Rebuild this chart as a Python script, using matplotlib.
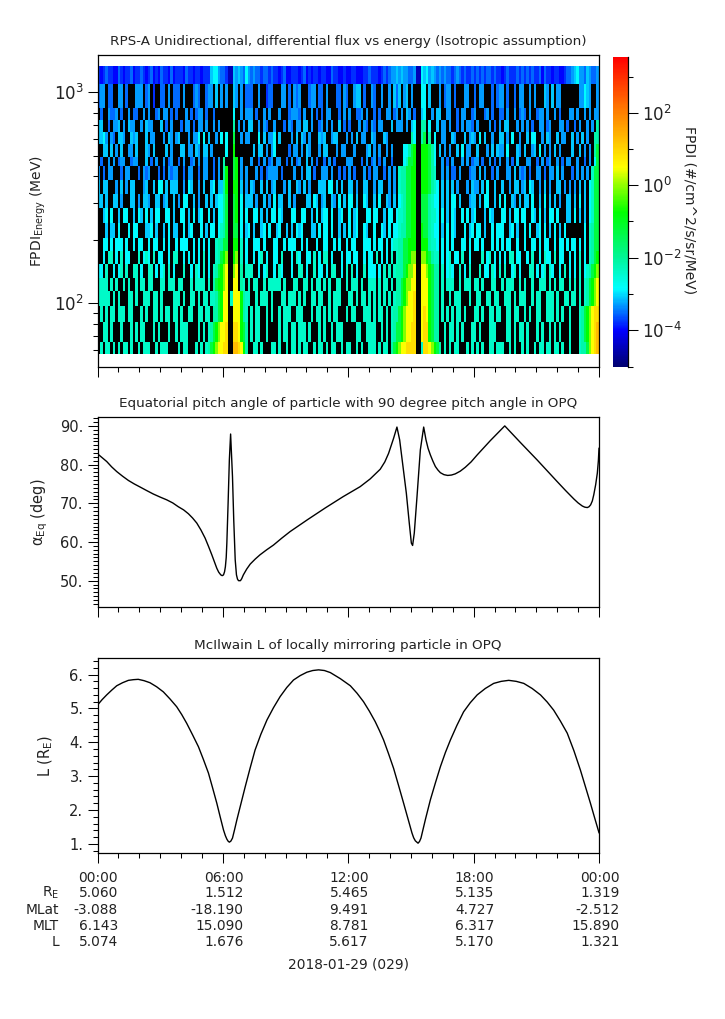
import numpy as np
import matplotlib
matplotlib.use('Agg')
import matplotlib.pyplot as plt
from matplotlib.colors import LinearSegmentedColormap, LogNorm
from matplotlib.ticker import FixedLocator, NullFormatter, FuncFormatter

# energy bin edges (MeV), top of the panel first
energy_edges = [1329, 1091, 839, 736, 645, 566, 496, 445, 382, 331, 284,
                241, 205, 178, 154, 132, 115, 97.3, 81.7, 65.6, 57.5]

# log10 flux per letter, '.' is a fill cell (drawn black)
flux_levels = {'z': -4.5, '0': -4.0, '1': -3.8, '2': -3.55, '3': -3.3, '4': -3.1, '5': -2.86,
               '6': -2.4, '7': -2.15, '8': -1.3, '9': -0.75, 'a': -0.1, 'b': 0.5, 'c': 0.9, 'd': 1.3}

flux_rows = [
    "1012110021 0112011210 1201021102 0111021101 1011145532 21zz434325 3232212212 1101200111 0120101101 1002110010 0110001121 1101212334 3433223zz5 4534323232 2123212112 1212122121 1012111212 1212112021 1011001223 4533243223",
    "233.22..33 .2...333.2 3.1..22.3. 222.3...23 2..233.4.3 .3..43.3.2 22..3..122 ...33.2.32 3...233.22 .3...22.32 ..344.2..3 2..3..3.42 4.34.3...5 5.4...3.23 3.2...33.. 2.33...2.2 33.2..2.33 ..3.3...43 .4.33..... ..33543..3",
    ".2..3223.2 ..3.22..3. 3..23.33.2 .2...3.2.2 33.2..2... ....5..3.3 33.2..3.3. ..3...2333 2.3..3.2.2 .33...2.3. 3..223.3.. 2.2..33.23 .3.43.2..4 5..3.44..3 3..2.33..2 3...23.2.. 22.3..3.23 2.3..233.3 ..3.2...33 .3..3.3.33",
    "44..2.334. 3.433..3.4 33...4.2.3 ...2.33.2. 33.3..3.3. ....7.3.3. 44..3.32.. 3...2.32.3 3.44.3..23 .3.3..4.2. 2...3.32.3 2.33...4.3 33.3.45..7 7.5..4.33. 3..2.3.332 .3....3.2. 3.44...3.3 .3.2..33.2 3...33.2.. 2.3..3.3.7",
    "4453.32.44 3..434...4 .33...3.43 .34...3.33 5.5.4..3.5 .5..8..3.3 3...5.4.33 5.4....3.4 .43.3...43 4..344...3 .3.4.33..4 3...43.... .....75..7 8.7.5..33. .43...4.34 3.5.4..3.. 44.3.5..3. .4.55..3.4 3..4.33..4 .3.4.3..77",
    "..44.4.3.4 ..33.4...4 3.4....4.3 ...44.33.4 3.44.3.... .5..9..... ..4.44.3.3 5.....2.33 .3.43...3. 44...3.33. ..3....34. 3.3..3.3.. ..55789..9 99875.4.3. 3..4.5.33. .4...3.4.4 33.5...43. 4..34.5.3. 3.4.3....4 ..4.3.3.78",
    ".2..3.3.23 3..233...4 .2.3..3.23 ..2.3..23. 3.33..2.3. 7...89.3.. .3..2.3.23 .33..2.3.2 3..4.3.2.. 2.3.2....3 33...2.3.2 3.2.3..2.. ..56889..9 99875..3.2 .3...3.3.2 33.2..3.2. 3..3.2.4.. .33..2.3.2 3..3.2.33. .3..2.3.58",
    "3.2.33...2 .33...2.32 3...2.2.32 33..2.33.. 2.33..2.3. 79..89.3.3 ...3.2.233 33.2....3. .3.44.2..3 33.3..2.2. 3.2...3.2. 33..2.3.3. 6778899..9 99876..3.3 .22.3...23 3.4.3..2.3 ...33.4.32 3.2..33.2. 33.4.3...2 .3.3.3.688",
    "4.44...3.4 .3.44...34 ..4.55.4.4 44..3.54.. 3.4..45.44 79..99.4.3 .43..4.4.3 4...3.4..4 3.4.3...44 4.55.4.4.. 44.3..44.. 3.44..3.3. 6778899..9 998765.4.4 .4.3...3.4 33.4.5..4. .4..3.44.3 4.54..3.4. 3..44.3.3. 3.4.4.5688",
    "44.4..44.3 ...44.3.44 3..44.34.. 4.3.55..4. 3..4.4.455 78..89.5.4 44.3..4.3. 5.44..4.3. ...44.54.3 4..43.5.4. 55.4..54.. 4.5..43.4. 5678899..8 887655.4.4 .55.4...34 4.4.55..4. 5.5..43.4. 44.5..4.5. 4.4.3..44. 4.5.4.5688",
    "..45.5..4. 55..4.54.5 .4.55..55. 4..55.4.5. 45..5.4.55 78..89.5.5 ..55.4.4.5 5.54...55. .55..4.5.4 55.5..45.. 5.45...55. 55..4.55.5 6678899..8 887665.5.4 .54..5.5.4 5...4.54.. .55.4.55.5 5..54.5.4. 55.5...44. 5.4.4.5688",
    "...4.44.5. ..5.55...4 45.4..4.5. 44..5.45.. .5.4.55.56 78..88.5.4 5.4..45.5. .45..4.4.5 45...44.5. 55.5..4.4. 5.45..54.. 5..54.5.55 6778899..9 887655.4.5 .54...5.45 .55.4..5.5 55..45.4.. 5.5..45.5. 4.5.4.5... ....5.6788",
    "..55.5.555 .5..5.55.. 5.55..5.5. .5.555..5. 5.5.5..677 88..99.6.5 ..555.5... 55..5.555. .5.5...5.. 55..5.5..5 .55...555. 5.55.5.566 7788999..9 997665.5.5 .5...55.5. 55.5...5.5 .5.55..5.. 5..55.5.55 ..5.55.5.5 5.5.5.6788",
    "..5.66.5.6 .55...6.56 5.6.55..5. 66..5.5.5. 5.6.5..678 9a..9a.6.5 ..5.56.5.. 55.6...5.6 5..55.6.5. 66.5...5.5 5.55..5.55 .6.5.5.6.6 77889aa..a a98766.5.5 6.55.6..5. ...6.56.5. 5.5.66.55. .5.6..5.65 5.6.55..5. 5.6.5.6789",
    "55.6..5.56 .6..66.5.. 66.5.56.6. 5...6..5.6 5.6.5.6789 ab..ab.7.6 66..5.56.. 5.65...5.. 66.5..6.55 .5.66..5.6 .6.5..6.55 5.5.6.6.67 7789aab..b ba9877.6.5 65..6.5.6. ..6.55.65. 6.6..56.5. ..66.5.56. 65..5.6.5. 5.6.56789a",
    "6666.6.6.. 6.6..6.66. 66...66.66 6.66...6.6 666.6.7899 ab..bb.76. 6.66..6.66 666.6...66 ..66.6.66. 6.6..66..6 .666.6..66 6.6.66.6.7 789aabb..b bb9877.6.6 66..6.666. 66.6...66. .6.666..6. 6..6..666. 6.6.66..6. 6.6.6789ab",
    "66666.6.6. ..66.6..66 6.66.6.... 666.6..66. 6.66.66789 bb.6bbb976 6..6.666.6 ...66.666. 6.6..66.66 ..6.666... 66.6.66.6. 6.6.6.6.67 789abbc..b bb9877.6.. 6.666...6. .66..66.66 ..666.6.66 6..6.66..6 66.6..66.6 6.6.6789ab",
    ".6.6.66.66 6.66...6.6 ..66.6.66. 66.6..66.. 66.66.7789 bb..bbb976 .6.66..6.6 ..6.666..6 66...6.66. 6.6.66...6 .66...666. 6.66.6.677 89abbbc..b cb9877.6.6 .6.66.6... 66.6..66.6 6..66.66.. 6.6..66..6 66.6.6..6. ..6789abcc",
    "..66.6...6 ...6.6.66. ..6.6...6. .6.666.... 6.6.6789ab bc..ccb987 .6.66..6.. ..6.66.66. 666.6...6. 6..6.666.. ...66..666 6..6.6.678 89abbcc..b cc9877..6. 66.6.6...6 6.6...666. ...66.6.66 .6...6.6.. 6.6.6...6. ..6789abcd",
    ".6.66.6.6. 66.6..6.66 6..6.666.. ..6.66...6 .6.6789abb cc..ddcb97 ..66.6...6 6.6..6.66. 6.66..6.66 .6.66..6.6 6..6.6..66 6.6.66.789 abbcccc..6 ccba987.6. 6.66...6.6 .6.6..66.6 66..6.6..6 .6..6.66.6 6.66.6..6. ..6778abcd",
]

# equatorial pitch angle
pitch_hours = [0, .22, .44, .68, .92, 1.2, 1.48, 1.76, 2.04, 2.35, 2.67, 3, 3.31, 3.6, 3.87, 4.12, 4.35, 4.55, 4.75,
               4.95, 5.15, 5.31, 5.47, 5.6, 5.71, 5.8, 5.9, 5.97, 6.03, 6.08, 6.12, 6.16, 6.19, 6.25, 6.31, 6.37,
               6.46, 6.52, 6.59, 6.65, 6.7, 6.75, 6.84, 6.9, 6.98, 7.14, 7.31, 7.55, 7.78, 8.1, 8.42, 8.82, 9.22,
               10.06, 10.9, 11.75, 12.57, 13.05, 13.53, 13.75, 13.93, 14.17, 14.33, 14.46, 14.62, 14.78, 14.92,
               15.02, 15.08, 15.16, 15.29, 15.45, 15.61, 15.72, 15.82, 15.93, 16.05, 16.17, 16.29, 16.41, 16.58,
               16.76, 16.94, 17.12, 17.36, 17.6, 17.88, 18.17, 18.8, 19.49, 20.24, 21.04, 22.0, 22.4, 22.8, 23.0,
               23.2, 23.32, 23.44, 23.52, 23.6, 23.68, 23.75, 23.84, 23.92, 23.97, 24]
pitch_deg = [82.8, 81.8, 80.8, 79.4, 78.2, 77, 75.9, 75, 74.2, 73.3, 72.4, 71.6, 70.9, 70.1, 69.1, 68.3, 67.3, 66.2, 64.9,
             63.1, 61, 58.9, 56.7, 54.8, 53.2, 52.2, 51.5, 51.3, 51.5, 52.3, 53.6, 56, 59.7, 70, 81.2, 87.9,
             76.9, 65.7, 55.4, 51.5, 50.4, 50, 50, 50.5, 51.5, 53, 54.3, 55.6, 56.7, 58, 59.2, 61, 62.7,
             65.8, 68.8, 71.7, 74.3, 76.3, 78.8, 80.7, 82.9, 86.8, 89.7, 86.4, 79.5, 72.6, 64.9,
             59.7, 59.1, 62.3, 71.7, 83.8, 89.7, 86.4, 84.2, 82.5, 80.9, 79.5, 78.6, 77.9, 77.4,
             77.2, 77.3, 77.6, 78.3, 79.3, 80.7, 82.5, 86.2, 90, 85.7, 81.2, 75.6, 73.3, 71.1, 70.1,
             69.3, 69, 68.9, 69.1, 69.6, 70.6, 72.2, 74.8, 77.8, 81, 84.2]

# McIlwain L
mcilwain_hours = [0, .22, .44, .68, .92, 1.2, 1.48, 1.72, 1.95, 2.23, 2.51, 2.83, 3.15, 3.47, 3.79, 4.03, 4.27, 4.55,
                  4.83, 5.07, 5.31, 5.51, 5.71, 5.87, 6.03, 6.12, 6.19, 6.25, 6.31, 6.38, 6.46, 6.56, 6.67, 6.87,
                  7.07, 7.3, 7.54, 7.82, 8.11, 8.42, 8.74, 9.06, 9.38, 9.7, 10.02, 10.3, 10.58, 10.86, 11.14, 11.62,
                  12.1, 12.42, 12.73, 13.01, 13.29, 13.49, 13.69, 13.93, 14.17, 14.41, 14.65, 14.85, 15.05, 15.13,
                  15.21, 15.34, 15.41, 15.48, 15.7, 15.93, 16.17, 16.41, 16.65, 16.89, 17.2, 17.52, 17.84, 18.17,
                  18.56, 18.96, 19.32, 19.68, 20.04, 20.4, 20.8, 21.2, 21.52, 21.83, 22.15, 22.48, 22.8, 23.11,
                  23.35, 23.59, 23.8, 24]
mcilwain_l = [5.1, 5.26, 5.4, 5.54, 5.67, 5.76, 5.83, 5.85, 5.86, 5.82, 5.76, 5.64, 5.49, 5.28, 5.05, 4.82, 4.56, 4.22,
              3.87, 3.49, 3.09, 2.65, 2.2, 1.8, 1.41, 1.24, 1.14, 1.08, 1.05, 1.08, 1.17, 1.42, 1.71, 2.2,
              2.69, 3.23, 3.77, 4.24, 4.66, 5.02, 5.35, 5.62, 5.84, 5.97, 6.07, 6.12, 6.14, 6.12, 6.06, 5.88,
              5.67, 5.45, 5.2, 4.92, 4.61, 4.35, 4.07, 3.66, 3.23, 2.72, 2.2, 1.76, 1.32, 1.18,
              1.09, 1.02, 1.07, 1.17, 1.74, 2.3, 2.8, 3.28, 3.7, 4.07, 4.5, 4.9, 5.17, 5.4,
              5.59, 5.74, 5.8, 5.83, 5.8, 5.74, 5.59, 5.4, 5.19, 4.95, 4.63, 4.27, 3.75, 3.18,
              2.69, 2.2, 1.75, 1.33]

tick_hours = [0, 6, 12, 18, 24]
tick_times = ['00:00', '06:00', '12:00', '18:00', '00:00']
table_names = [r'R$_{\mathrm{E}}$', 'MLat', 'MLT', 'L']
table_values = [['5.060', '1.512', '5.465', '5.135', '1.319'],
                ['-3.088', '-18.190', '9.491', '4.727', '-2.512'],
                ['6.143', '15.090', '8.781', '6.317', '15.890'],
                ['5.074', '1.676', '5.617', '5.170', '1.321']]

W, H = 725, 1019
plt.rcParams['font.family'] = 'DejaVu Sans'
plt.rcParams['font.size'] = 10
plt.rcParams['mathtext.default'] = 'regular'
plt.rcParams['axes.linewidth'] = 0.9
plt.rcParams['text.color'] = '#222222'

fig = plt.figure(figsize=(W / 100, H / 100), dpi=100)


def px_axes(left, top, right, bottom):
    return fig.add_axes([left / W, 1 - bottom / H, (right - left) / W, (bottom - top) / H])


def px_text(x, y, s, **kw):
    kw.setdefault('ha', 'center')
    kw.setdefault('va', 'center')
    fig.text(x / W, 1 - y / H, s, **kw)


def style_axis(ax):
    ax.set_xlim(0, 24)
    ax.set_xticks(tick_hours)
    ax.set_xticks(range(25), minor=True)
    ax.set_xticklabels([])
    ax.tick_params(which='major', length=7.2, width=0.75, pad=3, labelcolor='#222222')
    ax.tick_params(which='minor', length=3.6, width=0.75)


# spectrogram
ax1 = px_axes(97.5, 55, 599, 367)
style_axis(ax1)

flux = np.full((len(flux_rows), 200), np.nan)
for i, row in enumerate(flux_rows):
    cells = row.replace(' ', '')
    for j, c in enumerate(cells):
        if c != '.':
            flux[i, j] = 10.0 ** flux_levels[c]

cb_low, cb_high = -5.03, 3.55
nodes = [(-5.03, (0, 0, 110)), (-4.03, (0, 0, 255)), (-2.86, (0, 255, 255)), (-2.0, (0, 245, 150)),
         (-0.75, (0, 255, 0)), (0.15, (175, 255, 0)), (0.5, (255, 255, 0)), (3.55, (255, 0, 0))]
cmap = LinearSegmentedColormap.from_list(
    'rbsp', [((v - cb_low) / (cb_high - cb_low), tuple(c / 255 for c in rgb)) for v, rgb in nodes], N=256)
cmap.set_bad('black')

time_edges = np.linspace(0, 24, 201)
mesh = ax1.pcolormesh(time_edges, energy_edges, np.ma.masked_invalid(flux), cmap=cmap,
                      norm=LogNorm(10.0 ** cb_low, 10.0 ** cb_high), antialiased=False, linewidth=0)
ax1.set_yscale('log')
ax1.set_ylim(50, 1500)
ax1.yaxis.set_major_locator(FixedLocator([100, 1000]))
ax1.yaxis.set_major_formatter(FuncFormatter(lambda v, p: r'$10^{%d}$' % round(np.log10(v))))
ax1.yaxis.set_minor_locator(FixedLocator([60, 70, 80, 90, 200, 300, 400, 500, 600, 700, 800, 900]))
ax1.yaxis.set_minor_formatter(NullFormatter())
ax1.tick_params(axis='y', which='major', labelsize=12)
px_text(348, 41, 'RPS-A Unidirectional, differential flux vs energy (Isotropic assumption)', fontsize=9.7)
px_text(38, 211, r'FPDI$_{\mathrm{Energy}}$ (MeV)', rotation=90, fontsize=10)

# colour bar
cax = px_axes(613, 57, 628, 367)
cb = fig.colorbar(mesh, cax=cax)
cb.outline.set_visible(False)
cax.axvline(1, color='black', lw=0.9, clip_on=False)
cax.yaxis.set_major_locator(FixedLocator([1e-4, 1e-2, 1e0, 1e2]))
cax.yaxis.set_major_formatter(FuncFormatter(lambda v, p: r'$10^{%d}$' % round(np.log10(v))))
cax.yaxis.set_minor_locator(FixedLocator([10.0 ** cb_low, 1e-3, 1e-1, 1e1, 1e3]))
cax.yaxis.set_minor_formatter(NullFormatter())
cax.tick_params(which='major', length=7.2, width=0.75, labelsize=12, pad=3, labelcolor='#222222')
cax.tick_params(which='minor', length=3.6, width=0.75)
px_text(689, 210, 'FPDI (#/cm^2/s/sr/MeV)', rotation=270, fontsize=10)

# pitch angle
ax2 = px_axes(97.5, 417, 599, 607)
style_axis(ax2)
ax2.plot(pitch_hours, pitch_deg, color='black', lw=1.0)
ax2.set_ylim(43.2, 92.3)
ax2.set_yticks([50, 60, 70, 80, 90])
ax2.set_yticklabels(['50.', '60.', '70.', '80.', '90.'])
ax2.set_yticks(range(44, 93), minor=True)
ax2.tick_params(axis='y', which='major', labelsize=10.5)
px_text(348, 403, 'Equatorial pitch angle of particle with 90 degree pitch angle in OPQ', fontsize=9.7)
px_text(40, 512, r'$\alpha_{\mathrm{Eq}}$ (deg)', rotation=90, fontsize=10.5)

# L shell
ax3 = px_axes(97.5, 658, 599, 853)
style_axis(ax3)
ax3.plot(mcilwain_hours, mcilwain_l, color='black', lw=1.0)
ax3.set_ylim(0.73, 6.49)
ax3.set_yticks([1, 2, 3, 4, 5, 6])
ax3.set_yticklabels(['1.', '2.', '3.', '4.', '5.', '6.'])
ax3.set_yticks(np.arange(0.8, 6.5, 0.2), minor=True)
ax3.tick_params(axis='y', which='major', labelsize=10.5)
px_text(348, 645, 'McIlwain L of locally mirroring particle in OPQ', fontsize=9.7)
px_text(46, 756, r'L (R$_{\mathrm{E}}$)', rotation=90, fontsize=10.5)

# ephemeris table below the time axis
row_y = [893, 910, 926, 942]
for h, t in zip(tick_hours, tick_times):
    ax3.annotate(t, xy=(h, 0), xycoords=('data', 'axes fraction'), xytext=(20.5, -25),
                 textcoords='offset pixels', ha='right', va='center', fontsize=9.9)
for y, name, vals in zip(row_y, table_names, table_values):
    px_text(59, y, name, ha='right', fontsize=9.9)
    for h, v in zip(tick_hours, vals):
        ax3.annotate(v, xy=(h, 0), xycoords=('data', 'axes fraction'), xytext=(20.5, 853 - y),
                     textcoords='offset pixels', ha='right', va='center', fontsize=9.9)
px_text(348, 965, '2018-01-29 (029)', fontsize=9.9)

fig.savefig('out.png', dpi=100)
